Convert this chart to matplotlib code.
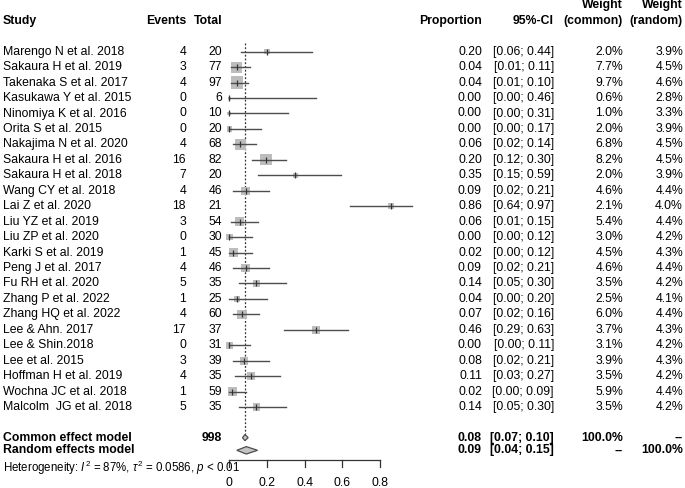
import matplotlib
matplotlib.use("Agg")
import matplotlib.pyplot as plt
from matplotlib.transforms import blended_transform_factory

plt.rcParams['font.family'] = ['Liberation Sans', 'DejaVu Sans']
plt.rcParams['mathtext.fontset'] = 'custom'
plt.rcParams['mathtext.rm'] = 'Liberation Sans'
plt.rcParams['mathtext.it'] = 'Liberation Sans:italic'

# data
studies = ["Marengo N et al. 2018", "Sakaura H et al. 2019", "Takenaka S et al. 2017",
           "Kasukawa Y et al. 2015", "Ninomiya K et al. 2016", "Orita S et al. 2015",
           "Nakajima N et al. 2020", "Sakaura H et al. 2016", "Sakaura H et al. 2018",
           "Wang CY et al. 2018", "Lai Z et al. 2020", "Liu YZ et al. 2019",
           "Liu ZP et al. 2020", "Karki S et al. 2019", "Peng J et al. 2017",
           "Fu RH et al. 2020", "Zhang P et al. 2022", "Zhang HQ et al. 2022",
           "Lee & Ahn. 2017", "Lee & Shin.2018", "Lee et al. 2015",
           "Hoffman H et al. 2019", "Wochna JC et al. 2018", "Malcolm  JG et al. 2018"]
events = [4, 3, 4, 0, 0, 0, 4, 16, 7, 4, 18, 3, 0, 1, 4, 5, 1, 4, 17, 0, 3, 4, 1, 5]
totals = [20, 77, 97, 6, 10, 20, 68, 82, 20, 46, 21, 54, 30, 45, 46, 35, 25, 60, 37, 31, 39, 35, 59, 35]
ci_low = [0.06, 0.01, 0.01, 0.00, 0.00, 0.00, 0.02, 0.12, 0.15, 0.02, 0.64, 0.01,
          0.00, 0.00, 0.02, 0.05, 0.00, 0.02, 0.29, 0.00, 0.02, 0.03, 0.00, 0.05]
ci_high = [0.44, 0.11, 0.10, 0.46, 0.31, 0.17, 0.14, 0.30, 0.59, 0.21, 0.97, 0.15,
           0.12, 0.12, 0.21, 0.30, 0.20, 0.16, 0.63, 0.11, 0.21, 0.27, 0.09, 0.30]
w_common = [2.0, 7.7, 9.7, 0.6, 1.0, 2.0, 6.8, 8.2, 2.0, 4.6, 2.1, 5.4,
            3.0, 4.5, 4.6, 3.5, 2.5, 6.0, 3.7, 3.1, 3.9, 3.5, 5.9, 3.5]
w_random = [3.9, 4.5, 4.6, 2.8, 3.3, 3.9, 4.5, 4.5, 3.9, 4.4, 4.0, 4.4,
            4.2, 4.3, 4.4, 4.2, 4.1, 4.4, 4.3, 4.2, 4.3, 4.2, 4.4, 4.2]

common = (0.083, 0.07, 0.10)   # estimate, lower, upper
random_ = (0.09, 0.04, 0.15)
total_n = 998
ticks = [0, 0.2, 0.4, 0.6, 0.8]

W, H = 685, 488
px_unit = 188.6      # pixels per proportion unit
x0_px = 229.3        # pixel of proportion 0
row_px = 15.45       # pixels per row
y0_px = 51.7         # pixel of first study row

fig = plt.figure(figsize=(W / 100, H / 100), dpi=100)
ax = fig.add_axes([0, 0, 1, 1])
ax.set_xlim(-x0_px / px_unit, (W - x0_px) / px_unit)
ax.set_ylim((H - y0_px) / row_px, -y0_px / row_px)
ax.axis('off')

tr = blended_transform_factory(ax.transAxes, ax.transData)
fs = 8.8

def col(xpx, y, s, ha='right', bold=False, size=fs):
    ax.text(xpx / W, y, s, transform=tr, ha=ha, va='center', fontsize=size,
            fontweight='bold' if bold else 'normal')

# headers
y_head = -2.0
col(3, y_head, "Study", ha='left', bold=True)
col(186, y_head, "Events", bold=True)
col(222, y_head, "Total", bold=True)
col(482, y_head, "Proportion", bold=True)
col(554, y_head, "95%-CI", bold=True)
col(623, y_head - 1.03, "Weight", bold=True)
col(623, y_head, "(common)", bold=True)
col(683, y_head - 1.03, "Weight", bold=True)
col(683, y_head, "(random)", bold=True)

rows = list(range(len(studies)))
for i in rows:
    p = events[i] / totals[i]
    col(3, i, studies[i], ha='left')
    col(186, i, str(events[i]))
    col(222, i, str(totals[i]))
    col(482, i, f"{p:.2f}")
    col(554, i, f"[{ci_low[i]:.2f}; {ci_high[i]:.2f}]")
    col(623, i, f"{w_common[i]:.1f}%")
    col(683, i, f"{w_random[i]:.1f}%")

    side_pt = 12.2 * (w_common[i] / 9.7) ** 0.5 * 0.72
    ax.scatter([p], [i], marker='s', s=side_pt ** 2, color='#bdbdbd',
               edgecolors='none', zorder=2)
    ax.plot([ci_low[i], ci_high[i]], [i, i], color='#4d4d4d', lw=1.0, zorder=3)
    ax.plot([p], [i], marker='|', ms=4, mew=0.9, color='#333333', zorder=4)

# summary rows
y_com = 24.98
y_ran = 25.8
col(3, y_com, "Common effect model", ha='left', bold=True)
col(3, y_ran, "Random effects model", ha='left', bold=True)
col(222, y_com, str(total_n), bold=True)
for y, est, wc, wr in [(y_com, common, "100.0%", "--"), (y_ran, random_, "--", "100.0%")]:
    col(482, y, f"{est[0]:.2f}", bold=True)
    col(554, y, f"[{est[1]:.2f}; {est[2]:.2f}]", bold=True)
    col(623, y, wc, bold=True)
    col(683, y, wr, bold=True)

for y, est, hh in [(y_com, common, 0.2), (y_ran, random_, 0.24)]:
    ax.fill([est[1], est[0], est[2], est[0]], [y, y - hh, y, y + hh],
            facecolor='#c4c4c4', edgecolor='#4d4d4d', lw=0.9, zorder=3)

# reference line at the pooled estimate
ax.plot([common[0], common[0]], [-0.55, y_com], color='#333333', lw=0.9,
        ls=(0, (1.5, 1.5)), zorder=1)

# x axis
y_axis = 26.4
ax.plot([ticks[0], ticks[-1]], [y_axis, y_axis], color='#333333', lw=0.9)
for t in ticks:
    ax.plot([t, t], [y_axis, y_axis + 0.45], color='#333333', lw=0.9)
    ax.text(t, 27.9, f"{t:g}", ha='center', va='center', fontsize=fs)

col(3, 26.95, r"Heterogeneity: $I^2$ = 87%, $\tau^2$ = 0.0586, $p$ < 0.01",
    ha='left', size=8.3)

fig.savefig("out.png", dpi=100)
